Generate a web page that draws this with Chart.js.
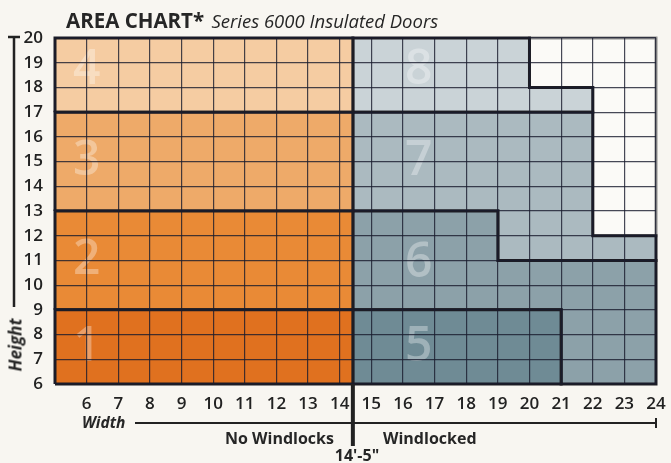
<!DOCTYPE html>
<html>
<head>
<meta charset="utf-8">
<script src="https://cdn.jsdelivr.net/npm/chart.js@4.4.1/dist/chart.umd.min.js"></script>
<style>
html,body{margin:0;padding:0;background:#f8f6f1;}
#wrap{position:relative;width:671px;height:463px;overflow:hidden;font-family:"Open Sans",sans-serif;color:#262626;}
#c{position:absolute;left:0;top:0;}
.t{position:absolute;white-space:nowrap;line-height:1;}
</style>
</head>
<body>
<div id="wrap">
<canvas id="c" width="671" height="463"></canvas>
<div class="t" style="left:66px;top:10px;font-size:20.5px;font-weight:700;">AREA CHART* <span style="font-weight:400;font-style:italic;font-size:18.5px;margin-left:2px;">Series 6000 Insulated Doors</span></div>
<div class="t" style="left:15px;top:345px;transform:translate(-50%,-50%) rotate(-90deg);font-size:17px;font-weight:700;font-style:italic;">Height</div>
<div class="t" style="left:82px;top:415px;font-size:15.5px;font-weight:700;font-style:italic;">Width</div>
<div class="t" style="left:225px;top:430px;font-size:16px;font-weight:700;">No Windlocks</div>
<div class="t" style="left:383px;top:430px;font-size:16px;font-weight:700;">Windlocked</div>
<div class="t" style="left:357px;top:447px;transform:translateX(-50%);font-size:16px;font-weight:700;">14'-5"</div>
</div>
<script>
// 14'-5" split between no-windlock and windlocked doors
var W = 14 + 5/12

var xTicks = [6,7,8,9,10,11,12,13,14,15,16,17,18,19,20,21,22,23,24]
var yTicks = [6,7,8,9,10,11,12,13,14,15,16,17,18,19,20]

// region outlines (width, height in feet)
var r1x = [5, W, W, 5, 5],  r1y = [6, 6, 9, 9, 6]
var r2x = [5, W, W, 5, 5],  r2y = [9, 9, 13, 13, 9]
var r3x = [5, W, W, 5, 5],  r3y = [13, 13, 17, 17, 13]
var r4x = [5, W, W, 5, 5],  r4y = [17, 17, 20, 20, 17]
var r5x = [W, 21, 21, W, W], r5y = [6, 6, 9, 9, 6]
var r6x = [W, 21, 21, 24, 24, 19, 19, W, W], r6y = [9, 9, 6, 6, 11, 11, 13, 13, 9]
var r7x = [W, 19, 19, 24, 24, 22, 22, W, W], r7y = [13, 13, 11, 11, 12, 12, 17, 17, 13]
var r8x = [W, 22, 22, 20, 20, W, W], r8y = [17, 17, 18, 18, 20, 20, 17]
var r0x = [20, 22, 22, 24, 24, 20, 20], r0y = [18, 18, 12, 12, 20, 20, 18]

var regionNames = ['1', '2', '3', '4', '5', '6', '7', '8']
var nameX = [6, 6, 6, 6, 16.5, 16.5, 16.5, 16.5]
var nameY = [7.5, 11, 15, 18.7, 7.5, 10.9, 15, 18.7]

var colors = ['#e0711f', '#e98a36', '#eeaa69', '#f5cca2', '#6f8b95', '#8ca1a9', '#abbac0', '#cad3d7', '#fbfaf7']

function pts(xs, ys) { return xs.map((x, i) => ({ x: x, y: ys[i] })) }

var shapes = [[r1x, r1y], [r2x, r2y], [r3x, r3y], [r4x, r4y], [r5x, r5y], [r6x, r6y], [r7x, r7y], [r8x, r8y], [r0x, r0y]]
var datasets = shapes.map((s, i) => ({
    data: pts(s[0], s[1]),
    fill: 'shape',
    backgroundColor: colors[i],
    borderColor: i == 8 ? '#8e8e8e' : '#1d1d24',
    borderWidth: 3,
    borderJoinStyle: 'miter',
    pointRadius: 0,
    tension: 0,
    clip: false
}))

var regionLabels = {
    id: 'regionLabels',
    afterDatasetsDraw(chart) {
        var ctx = chart.ctx, x = chart.scales.x, y = chart.scales.y
        ctx.save()
        ctx.font = '600 48px "Open Sans"'
        ctx.fillStyle = 'rgba(255,255,255,0.33)'
        ctx.textAlign = 'center'
        ctx.textBaseline = 'middle'
        regionNames.forEach((n, i) => {
            ctx.fillText(n, x.getPixelForValue(nameX[i]), y.getPixelForValue(nameY[i]))
        })
        ctx.restore()
    }
}

var extras = {
    id: 'extras',
    afterDraw(chart) {
        var ctx = chart.ctx, x = chart.scales.x, a = chart.chartArea
        ctx.save()
        ctx.strokeStyle = '#222'
        // height bracket
        ctx.lineWidth = 2.5
        ctx.beginPath()
        ctx.moveTo(8, a.top - 1); ctx.lineTo(20, a.top - 1)
        ctx.moveTo(14, a.top - 1); ctx.lineTo(14, 307)
        ctx.stroke()
        // width line
        ctx.lineWidth = 2
        ctx.beginPath()
        ctx.moveTo(135, 423); ctx.lineTo(x.getPixelForValue(24), 423)
        ctx.moveTo(x.getPixelForValue(24), 418); ctx.lineTo(x.getPixelForValue(24), 428)
        ctx.stroke()
        // 14'-5" divider
        ctx.lineWidth = 4
        ctx.beginPath()
        ctx.moveTo(x.getPixelForValue(W), a.bottom); ctx.lineTo(x.getPixelForValue(W), 446)
        ctx.stroke()
        ctx.restore()
    }
}

var tickFont = { family: 'Open Sans', size: 17, weight: '600' }

new Chart(document.getElementById('c'), {
    type: 'line',
    data: { datasets: datasets },
    options: {
        responsive: false,
        animation: false,
        layout: { padding: { top: 38, right: 15, left: 0, bottom: 0 } },
        plugins: { legend: { display: false }, tooltip: { enabled: false } },
        scales: {
            x: {
                type: 'linear', min: 5, max: 24,
                afterBuildTicks: s => { s.ticks = [5].concat(xTicks).map(v => ({ value: v })) },
                afterFit: s => { s.height = 79; s.paddingLeft = 0; s.paddingRight = 0 },
                ticks: { autoSkip: false, maxRotation: 0, padding: 10, color: '#222', font: tickFont,
                    callback: v => xTicks.includes(v) ? String(v) : '' },
                grid: { z: 1, color: 'rgba(25,28,45,0.8)', lineWidth: 1.2, drawTicks: false },
                border: { display: false }
            },
            y: {
                type: 'linear', min: 6, max: 20,
                afterBuildTicks: s => { s.ticks = yTicks.map(v => ({ value: v })) },
                afterFit: s => { s.width = 55; s.paddingTop = 0; s.paddingBottom = 0 },
                ticks: { autoSkip: false, padding: 12, color: '#222', font: tickFont },
                grid: { z: 1, color: 'rgba(25,28,45,0.8)', lineWidth: 1.2, drawTicks: false },
                border: { display: false }
            }
        }
    },
    plugins: [regionLabels, extras]
})
</script>
</body>
</html>
